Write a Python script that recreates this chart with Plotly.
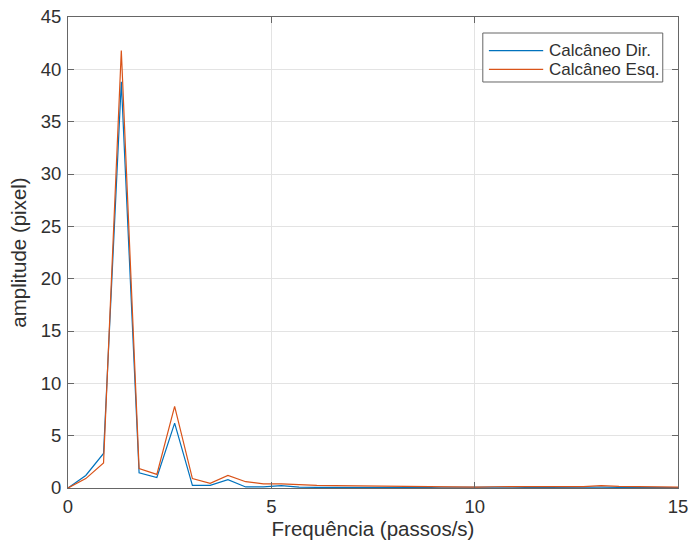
import plotly.graph_objects as go

# Frequency bins (passos/s)
freq = [0.000, 0.437, 0.874, 1.311, 1.748, 2.185, 2.622, 3.059, 3.496, 3.933,
        4.370, 4.807, 5.244, 5.681, 6.118, 6.555, 6.992, 7.429, 7.866, 8.303,
        8.740, 9.177, 9.614, 10.051, 10.488, 10.925, 11.362, 11.799, 12.236,
        12.673, 13.110, 13.547, 13.984, 14.421, 14.858, 15.295]

# Spectrum amplitude, right heel (Dir.)
amp_dir = [0.0, 1.2, 3.3, 38.8, 1.45, 1.0, 6.2, 0.25, 0.25, 0.8,
           0.1, 0.1, 0.22, 0.08, 0.06, 0.05, 0.07, 0.05, 0.08, 0.06,
           0.05, 0.07, 0.09, 0.04, 0.06, 0.08, 0.05, 0.07, 0.06,
           0.05, 0.08, 0.06, 0.05, 0.07, 0.05, 0.04]

# Spectrum amplitude, left heel (Esq.)
amp_esq = [0.0, 0.9, 2.4, 41.8, 1.85, 1.3, 7.8, 0.9, 0.45, 1.2,
           0.6, 0.4, 0.4, 0.3, 0.25, 0.22, 0.2, 0.18, 0.17, 0.15,
           0.14, 0.13, 0.12, 0.08, 0.12, 0.14, 0.13, 0.15, 0.14,
           0.13, 0.22, 0.15, 0.12, 0.14, 0.1, 0.08]

series_names = ["Calcâneo Dir.", "Calcâneo Esq."]
series_colors = ["#0072BD", "#D95319"]

x_ticks = [0, 5, 10, 15]
y_ticks = [0, 5, 10, 15, 20, 25, 30, 35, 40, 45]

font_family = "Liberation Sans, Arial, sans-serif"
axis_color = "#666666"
grid_color = "#e3e3e3"
text_color = "#303030"

fig = go.Figure()
for name, color, amp in zip(series_names, series_colors, [amp_dir, amp_esq]):
    fig.add_trace(go.Scatter(x=freq, y=amp, mode="lines", name=name,
                             line=dict(color=color, width=1.2)))

axis_common = dict(
    showline=True, linecolor=axis_color, linewidth=1, mirror="ticks",
    ticks="inside", ticklen=6, tickcolor=axis_color, tickwidth=1,
    showgrid=True, gridcolor=grid_color, gridwidth=1,
    zeroline=False, automargin=False,
    tickfont=dict(family=font_family, size=18.5, color=text_color),
    title_font=dict(family=font_family, size=20.5, color=text_color),
)

# Compact boxed legend in the upper-right corner of the axes
box_x0, box_x1, box_y0, box_y1 = 0.680, 0.975, 0.862, 0.966
row_y = [0.9286, 0.889]
line_x0, line_x1, text_x = 0.690, 0.779, 0.785

shapes = [dict(type="rect", xref="paper", yref="paper",
               x0=box_x0, x1=box_x1, y0=box_y0, y1=box_y1,
               line=dict(color=axis_color, width=1), fillcolor="white", layer="above")]
annotations = []
for name, color, ry in zip(series_names, series_colors, row_y):
    shapes.append(dict(type="line", xref="paper", yref="paper",
                       x0=line_x0, x1=line_x1, y0=ry, y1=ry,
                       line=dict(color=color, width=1.2), layer="above"))
    annotations.append(dict(xref="paper", yref="paper", x=text_x, y=ry,
                            text=name, showarrow=False, xanchor="left", yanchor="middle",
                            font=dict(family=font_family, size=17, color=text_color)))

fig.update_layout(
    width=691, height=549,
    margin=dict(l=68, r=13, t=17, b=61),
    paper_bgcolor="white", plot_bgcolor="white",
    xaxis=dict(range=[0, 15], tickvals=x_ticks, ticklabelstandoff=2,
               title=dict(text="Frequência (passos/s)", standoff=4),
               **axis_common),
    yaxis=dict(range=[0, 45], tickvals=y_ticks, ticklabelstandoff=2,
               title=dict(text="amplitude (pixel)", standoff=8),
               **axis_common),
    shapes=shapes,
    annotations=annotations,
    showlegend=False,
)

fig.write_html("out.html")
